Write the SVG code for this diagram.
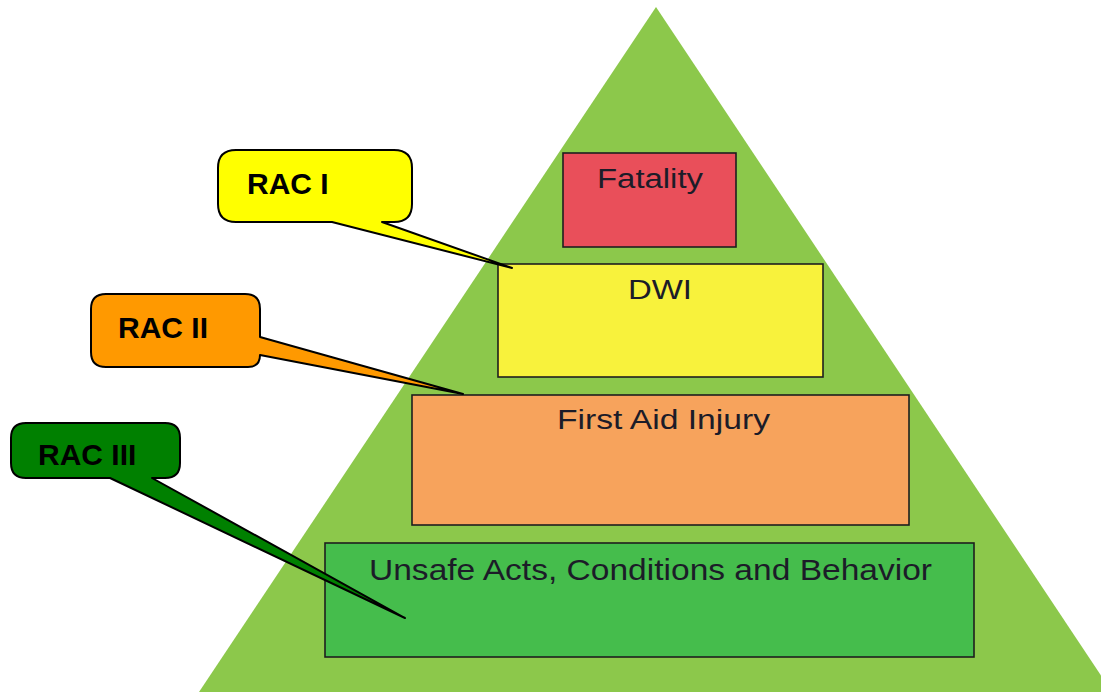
<svg xmlns="http://www.w3.org/2000/svg" width="1101" height="692" viewBox="0 0 1101 692">
<style>
.box{stroke:#1e1e1e;stroke-width:1.6}
.lbl{font-family:"Liberation Sans",Arial,sans-serif;font-size:27px;fill:#1c1c28}
.call{stroke:#000;stroke-width:2;stroke-linejoin:round}
.ct{font-family:"Liberation Sans",Arial,sans-serif;font-size:30px;font-weight:bold;fill:#000}
</style>
<rect width="1101" height="692" fill="#ffffff"/>
<g id="pyramid">
<polygon points="656,7 1112,692 199,692" fill="#8cc84b"/>
</g>
<g id="fatality">
<rect class="box" x="563" y="153" width="173" height="94" fill="#e94f5a"/>
<text class="lbl" x="597" y="188" textLength="106" lengthAdjust="spacingAndGlyphs">Fatality</text>
</g>
<g id="dwi">
<rect class="box" x="498" y="264" width="325" height="113" fill="#f8f23c"/>
<text class="lbl" x="628" y="299" textLength="64" lengthAdjust="spacingAndGlyphs">DWI</text>
</g>
<g id="firstaid">
<rect class="box" x="412" y="395" width="497" height="130" fill="#f7a35c"/>
<text class="lbl" x="557" y="429" textLength="213" lengthAdjust="spacingAndGlyphs">First Aid Injury</text>
</g>
<g id="unsafe">
<rect class="box" x="325" y="543" width="649" height="114" fill="#45bd4c"/>
<text class="lbl" x="369" y="580" textLength="563" lengthAdjust="spacingAndGlyphs" style="font-size:29px">Unsafe Acts, Conditions and Behavior</text>
</g>
<g id="connectors">
<g id="rac1">
<path class="call" fill="#ffff00" d="M236,150 H394 Q412,150 412,168 V204 Q412,222 394,222 H382 L512,268 L332,222 H236 Q218,222 218,204 V168 Q218,150 236,150 Z"/>
<text class="ct" x="247" y="194">RAC I</text>
</g>
<g id="rac2">
<path class="call" fill="#ff9900" d="M106,294 H245 Q260,294 260,309 V337 L463,394 L260,355 Q260,367 248,367 H106 Q91,367 91,352 V309 Q91,294 106,294 Z"/>
<text class="ct" x="118" y="338">RAC II</text>
</g>
<g id="rac3">
<path class="call" fill="#008000" d="M26,423 H165 Q180,423 180,438 V463 Q180,478 165,478 H152 L405,618 L110,478 H26 Q11,478 11,463 V438 Q11,423 26,423 Z"/>
<text class="ct" x="38" y="465">RAC III</text>
</g>
</g>
</svg>
